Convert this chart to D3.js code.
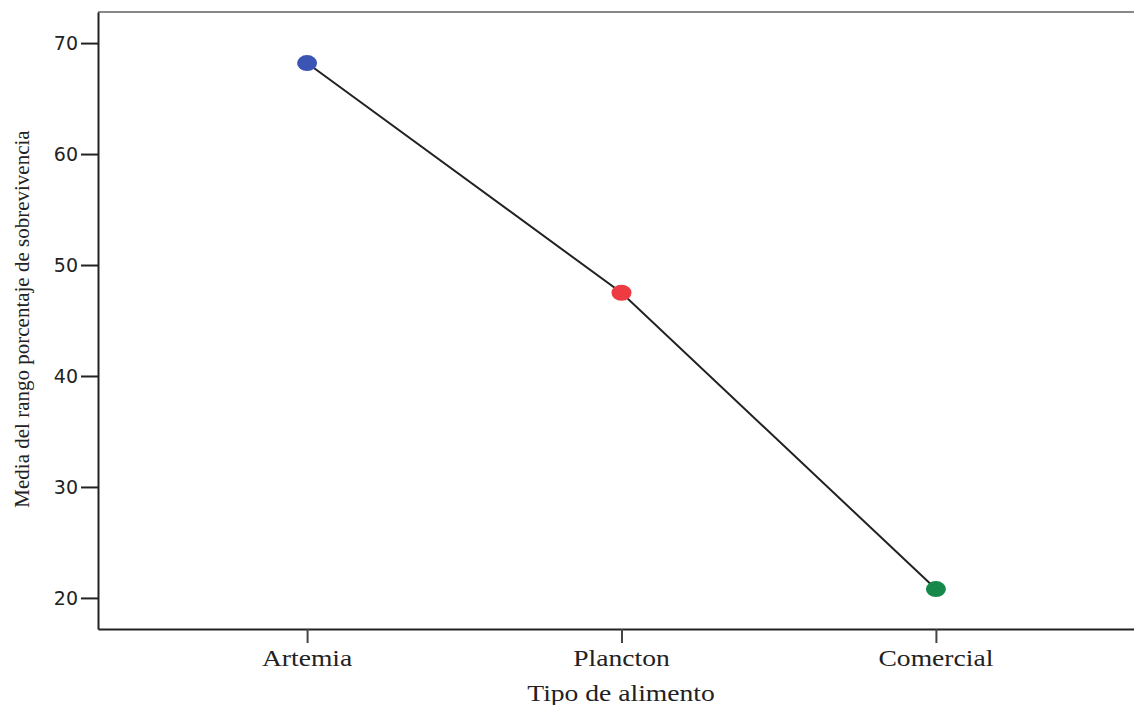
<!DOCTYPE html>
<html>
<head>
<meta charset="utf-8">
<script src="https://cdn.jsdelivr.net/npm/d3@7"></script>
<style>
  body { margin: 0; background: #fff; }
  svg { display: block; }
</style>
</head>
<body>
<div id="chart"></div>
<script>
// data
const categories = ['Artemia', 'Plancton', 'Comercial'];
const means = [68.2, 47.5, 20.8];
const pointColors = ['#3a55b4', '#ee3b42', '#15894a'];
const yTicks = [20, 30, 40, 50, 60, 70];

const W = 1134, H = 705;
const plot = {left: 98, right: 1145, top: 12, bottom: 629};

const svg = d3.select('#chart').append('svg')
    .attr('width', W)
    .attr('height', H);

const x = d3.scalePoint()
    .domain(categories)
    .range([plot.left, plot.right])
    .padding(0.665);

const y = d3.scaleLinear()
    .domain([17.2, 72.8])
    .range([plot.bottom, plot.top]);

// frame top (grey)
svg.append('line')
    .attr('x1', plot.left).attr('x2', W)
    .attr('y1', plot.top).attr('y2', plot.top)
    .attr('stroke', '#888').attr('stroke-width', 2);

// y axis
const yAxis = svg.append('g')
    .attr('transform', 'translate(' + plot.left + ',0)')
    .call(d3.axisLeft(y).tickValues(yTicks).tickSize(17).tickPadding(3).tickSizeOuter(0));
yAxis.select('.domain').attr('stroke', '#222').attr('stroke-width', 2);
yAxis.selectAll('.tick line').attr('stroke', '#222').attr('stroke-width', 2);
yAxis.selectAll('.tick text')
    .attr('font-family', 'DejaVu Sans, sans-serif')
    .attr('font-size', 19)
    .attr('fill', '#222');

// x axis
const xAxis = svg.append('g')
    .attr('transform', 'translate(0,' + plot.bottom + ')')
    .call(d3.axisBottom(x).tickSize(14).tickSizeOuter(0).tickFormat(''));
xAxis.select('.domain').attr('stroke', '#222').attr('stroke-width', 2);
xAxis.selectAll('.tick line').attr('stroke', '#444').attr('stroke-width', 2);

// x tick labels, widened like the original
svg.selectAll('.xlab').data(categories).enter()
    .append('text')
    .attr('class', 'xlab')
    .attr('transform', d => 'translate(' + x(d) + ',666) scale(1.2,1)')
    .attr('text-anchor', 'middle')
    .attr('font-family', 'Liberation Serif, serif')
    .attr('font-size', 23)
    .attr('fill', '#222')
    .text(d => d);

// axis titles
svg.append('text')
    .attr('transform', 'translate(621,701) scale(1.2,1)')
    .attr('text-anchor', 'middle')
    .attr('font-family', 'Liberation Serif, serif')
    .attr('font-size', 23)
    .attr('fill', '#222')
    .text('Tipo de alimento');

svg.append('text')
    .attr('transform', 'translate(29,319) rotate(-90)')
    .attr('text-anchor', 'middle')
    .attr('font-family', 'Liberation Serif, serif')
    .attr('font-size', 21)
    .attr('fill', '#222')
    .text('Media del rango porcentaje de sobrevivencia');

// the line
const line = d3.line()
    .x((d, i) => x(categories[i]))
    .y(d => y(d));

svg.append('path')
    .datum(means)
    .attr('d', line)
    .attr('fill', 'none')
    .attr('stroke', '#222')
    .attr('stroke-width', 2);

// markers
svg.selectAll('.pt').data(means).enter()
    .append('ellipse')
    .attr('class', 'pt')
    .attr('cx', (d, i) => x(categories[i]))
    .attr('cy', d => y(d))
    .attr('rx', 10)
    .attr('ry', 8)
    .attr('fill', (d, i) => pointColors[i]);
</script>
</body>
</html>
